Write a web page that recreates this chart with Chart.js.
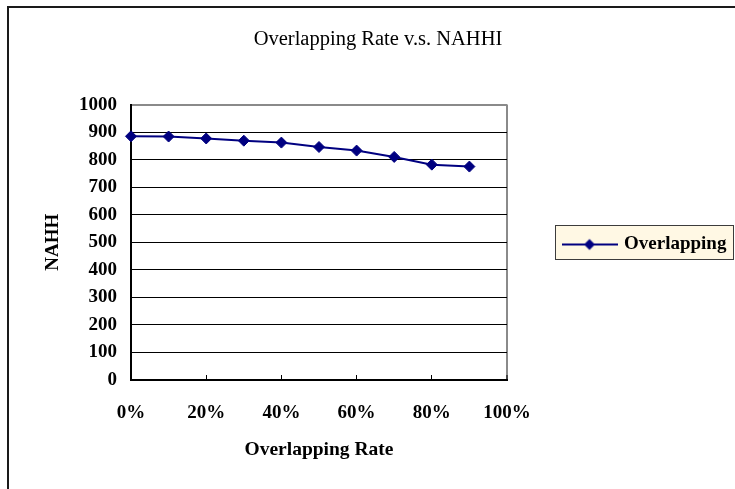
<!DOCTYPE html>
<html>
<head>
<meta charset="utf-8">
<script src="https://cdn.jsdelivr.net/npm/chart.js@4/dist/chart.umd.min.js"></script>
<style>
  html, body { margin: 0; padding: 0; background: #ffffff; overflow: hidden; }
  #wrap { position: relative; width: 735px; height: 489px; }
  canvas { display: block; }
</style>
</head>
<body>
<div id="wrap"><canvas id="chart" width="735" height="489"></canvas></div>
<script>
// Overlapping rate (%) and the measured NAHHI at each rate
const overlapRates = [0, 10, 20, 30, 40, 50, 60, 70, 80, 90];
const nahhiValues = [885, 884, 877, 869, 862, 846, 833, 810, 782, 775];
const xTickLabels = ['0%', '20%', '40%', '60%', '80%', '100%'];
const yTickLabels = ['0', '100', '200', '300', '400', '500', '600', '700', '800', '900', '1000'];
const seriesName = 'Overlapping';

const NAVY = '#000080';
const SERIF = '"Liberation Serif", "Times New Roman", serif';

// Legend symbol: a short line with a diamond on it
function legendSymbol() {
  const c = document.createElement('canvas');
  c.width = 56; c.height = 14;
  const g = c.getContext('2d');
  g.strokeStyle = NAVY; g.lineWidth = 2;
  g.beginPath(); g.moveTo(0, 7); g.lineTo(56, 7); g.stroke();
  g.fillStyle = NAVY;
  g.beginPath(); g.moveTo(28, 1.5); g.lineTo(33.5, 7); g.lineTo(28, 12.5); g.lineTo(22.5, 7); g.closePath(); g.fill();
  return c;
}

// Outer frame of the chart object and the cream legend box
const framePlugin = {
  id: 'frame',
  afterInit(chart) {
    const lg = chart.legend;
    if (lg && !lg._fixedFit) {
      const fit = lg.fit.bind(lg);
      lg.fit = function () { fit(); this.width = 228; };
      lg._fixedFit = true;
    }
  },
  beforeDraw(chart) {
    const ctx = chart.ctx;
    ctx.save();
    ctx.strokeStyle = '#1a1a1a';
    ctx.lineWidth = 2;
    ctx.strokeRect(8, 7, 800, 600);
    const lg = chart.legend;
    if (lg && lg.legendHitBoxes && lg.legendHitBoxes.length) {
      const h = lg.legendHitBoxes[0];
      const cy = h.top + h.height / 2;
      const x0 = h.left - 9.5, y0 = cy - 19.5;
      const x1 = h.left + h.width + 7, y1 = cy + 14.5;
      ctx.fillStyle = '#fff8e4';
      ctx.fillRect(x0, y0, x1 - x0, y1 - y0);
      ctx.strokeStyle = '#3c3c3c';
      ctx.lineWidth = 1;
      ctx.strokeRect(Math.round(x0) + 0.5, Math.round(y0) + 0.5, Math.round(x1 - x0), Math.round(y1 - y0));
    }
    ctx.restore();
  }
};

new Chart(document.getElementById('chart'), {
  type: 'line',
  data: {
    datasets: [{
      label: seriesName,
      data: overlapRates.map((r, i) => ({ x: r, y: nahhiValues[i] })),
      borderColor: NAVY,
      backgroundColor: NAVY,
      borderWidth: 2,
      pointStyle: 'rectRot',
      pointRadius: 5.5,
      pointBorderWidth: 1,
      pointBackgroundColor: NAVY,
      pointBorderColor: NAVY,
      tension: 0,
      fill: false,
      clip: false
    }]
  },
  options: {
    responsive: false,
    animation: false,
    devicePixelRatio: 1,
    layout: { padding: { left: 21, right: 0, top: 0, bottom: 0 } },
    plugins: {
      title: {
        display: true,
        text: 'Overlapping Rate v.s. NAHHI',
        color: '#000',
        font: { family: SERIF, size: 20.5, weight: 'normal' },
        padding: { top: 27, bottom: 53 }
      },
      legend: {
        display: true,
        position: 'right',
        labels: {
          color: '#000',
          font: { family: SERIF, size: 19, weight: 'bold' },
          usePointStyle: true,
          pointStyleWidth: 50,
          padding: 57.5,
          generateLabels: (chart) => [{
            text: seriesName,
            pointStyle: legendSymbol(),
            fillStyle: NAVY,
            strokeStyle: NAVY,
            lineWidth: 0,
            hidden: false,
            datasetIndex: 0
          }]
        }
      },
      tooltip: { enabled: false }
    },
    scales: {
      x: {
        type: 'linear',
        min: 0,
        max: 100,
        afterFit: (s) => { s.height = 109; },
        afterBuildTicks: (s) => { s.ticks = xTickLabels.map((_, i) => ({ value: i * 20 })); },
        ticks: {
          color: '#000',
          font: { family: SERIF, size: 19, weight: 'bold' },
          padding: 27,
          maxRotation: 0,
          autoSkip: false,
          callback: (v, i) => xTickLabels[i]
        },
        grid: {
          drawOnChartArea: true,
          drawTicks: true,
          tickLength: -5,
          color: (c) => (c.tick && c.tick.value === 100 ? '#8a8a8a' : 'rgba(0,0,0,0)'),
          lineWidth: (c) => (c.tick && c.tick.value === 100 ? 2 : 1),
          tickColor: '#000',
          tickWidth: 1
        },
        border: { display: true, color: '#000', width: 2 },
        title: {
          display: true,
          text: 'Overlapping Rate',
          color: '#000',
          font: { family: SERIF, size: 19.5, weight: 'bold' },
          padding: { top: 0, bottom: 27.6 }
        }
      },
      y: {
        type: 'linear',
        min: 0,
        max: 1000,
        afterFit: (s) => { s.width = 110; },
        afterBuildTicks: (s) => { s.ticks = yTickLabels.map((_, i) => ({ value: i * 100 })); },
        ticks: {
          color: '#000',
          font: { family: SERIF, size: 19, weight: 'bold' },
          padding: 14,
          autoSkip: false,
          callback: (v, i) => yTickLabels[i]
        },
        grid: {
          drawTicks: false,
          color: (c) => (c.tick && c.tick.value === 1000 ? '#8a8a8a' : '#000'),
          lineWidth: (c) => (c.tick && c.tick.value === 1000 ? 2 : 1)
        },
        border: { display: true, color: '#000', width: 2 },
        title: {
          display: true,
          text: 'NAHH',
          color: '#000',
          font: { family: SERIF, size: 19, weight: 'bold' },
          padding: { top: 21, bottom: 0 }
        }
      }
    }
  },
  plugins: [framePlugin]
});
</script>
</body>
</html>
